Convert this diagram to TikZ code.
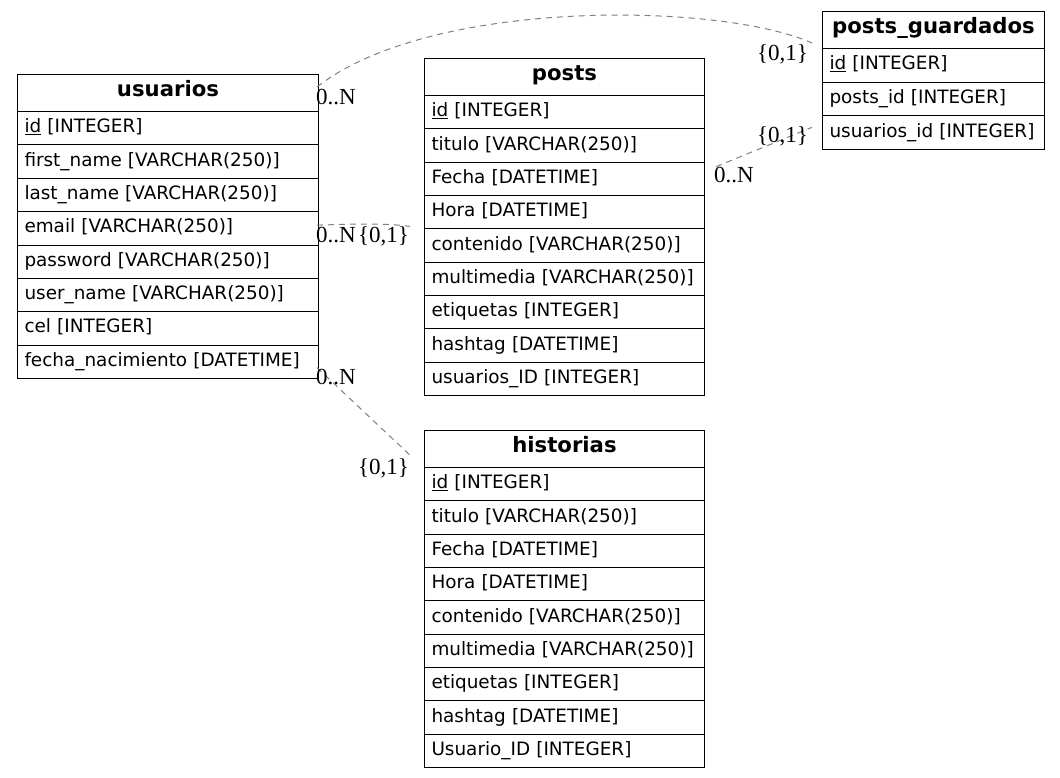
\documentclass[tikz,border=0pt]{standalone}
\usepackage{fontspec}
\usetikzlibrary{calc}
\setmainfont{DejaVu Sans}
\newfontfamily\lblfont{Liberation Serif}
\begin{document}
\begin{tikzpicture}[x=1pt,y=-1pt,
  cell/.style={draw=black, line width=1pt, anchor=north west, inner xsep=7pt, inner ysep=0pt,
    font=\fontsize{18.4}{22}\selectfont, align=left, text height=13pt, text depth=4pt},
  hdr/.style={cell, font=\fontsize{21.2}{24}\selectfont\bfseries, align=center, text height=12pt, text depth=5pt},
  rel/.style={draw=gray, line width=1pt, dash pattern=on 6pt off 5pt},
  card/.style={font=\lblfont\fontsize{23}{26}\selectfont, inner sep=0pt, anchor=base west}]
\useasboundingbox (0,0) rectangle (1060,777);
% usuarios
\def\uw{301}
\node[hdr, text width=\uw pt-14pt, minimum height=37pt] (u) at (17,74) {usuarios};
\foreach \t [count=\i from 0] in {{\underline{id} [INTEGER]},{first\_name [VARCHAR(250)]},{last\_name [VARCHAR(250)]},{email [VARCHAR(250)]},{password [VARCHAR(250)]},{user\_name [VARCHAR(250)]},{cel [INTEGER]},{fecha\_nacimiento [DATETIME]}}
  \node[cell, text width=\uw pt-14pt, minimum height=33.375pt] (u\i) at (17,111+33.375*\i) {\t};
% posts
\def\pw{280}
\node[hdr, text width=\pw pt-14pt, minimum height=37pt] (p) at (424,58) {posts};
\foreach \t [count=\i from 0] in {{\underline{id} [INTEGER]},{titulo [VARCHAR(250)]},{Fecha [DATETIME]},{Hora [DATETIME]},{contenido [VARCHAR(250)]},{multimedia [VARCHAR(250)]},{etiquetas [INTEGER]},{hashtag [DATETIME]},{usuarios\_ID [INTEGER]}}
  \node[cell, text width=\pw pt-14pt, minimum height=33.333pt] (p\i) at (424,95+33.333*\i) {\t};
% historias
\node[hdr, text width=\pw pt-14pt, minimum height=37pt] (h) at (424,430) {historias};
\foreach \t [count=\i from 0] in {{\underline{id} [INTEGER]},{titulo [VARCHAR(250)]},{Fecha [DATETIME]},{Hora [DATETIME]},{contenido [VARCHAR(250)]},{multimedia [VARCHAR(250)]},{etiquetas [INTEGER]},{hashtag [DATETIME]},{Usuario\_ID [INTEGER]}}
  \node[cell, text width=\pw pt-14pt, minimum height=33.333pt] (h\i) at (424,467+33.333*\i) {\t};
% posts_guardados
\def\gw{222}
\node[hdr, text width=\gw pt-14pt, minimum height=37pt] (g) at (822,11) {posts\_guardados};
\foreach \t [count=\i from 0] in {{\underline{id} [INTEGER]},{posts\_id [INTEGER]},{usuarios\_id [INTEGER]}}
  \node[cell, text width=\gw pt-14pt, minimum height=33.667pt] (g\i) at (822,48+33.667*\i) {\t};
% connector ends
\coordinate (e1a) at ($(u.north east)+(-2,13)$);
\coordinate (e1b) at ($(g.north west)+(-10,32)$);
\coordinate (e2a) at ($(p2.north east)+(11,5)$);
\coordinate (e2b) at ($(g2.north west)+(-10,12)$);
\coordinate (e3a) at ($(u3.north east)+(-2,14)$);
\coordinate (e3b) at ($(p4.north west)+(-14,-2)$);
\coordinate (e4a) at ($(u7.north east)+(-2,23)$);
\coordinate (e4b) at ($(h0.north west)+(-11,-9)$);
\draw[rel] (e1a) .. controls (430,-2) and (720,2) .. (e1b);
\draw[rel] (e2a) -- (e2b);
\draw[rel] (e3a) .. controls (355,224) and (385,223) .. (e3b);
\draw[rel] (e4a) -- (e4b);
% cardinalities
\node[card] (c1a) at (316,104) {0..N};
\node[card] (c1b) at (757,60) {\{0,1\}};
\node[card] (c2a) at (714,182) {0..N};
\node[card] (c2b) at (757,142) {\{0,1\}};
\node[card] (c3a) at (316,242) {0..N};
\node[card] (c3b) at (358,242) {\{0,1\}};
\node[card] (c4a) at (316,384) {0..N};
\node[card] (c4b) at (358,474) {\{0,1\}};
\end{tikzpicture}
\end{document}
